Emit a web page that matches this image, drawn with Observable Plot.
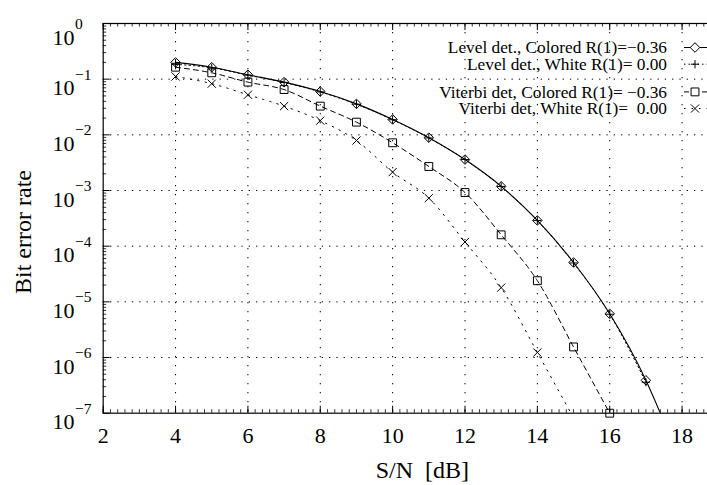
<!DOCTYPE html>
<html><head><meta charset="utf-8">
<script src="https://cdn.jsdelivr.net/npm/d3@7"></script>
<script src="https://cdn.jsdelivr.net/npm/@observablehq/plot@0.6"></script>
<style>
html,body{margin:0;padding:0;background:#fff;overflow:hidden}
#wrap{width:707px;height:485px;overflow:hidden;position:relative;background:#fff}
#wrap svg{max-width:none !important;}
</style></head><body><div id="wrap"></div>
<script>
// ---- data ----
const snrLevel = [4,5,6,7,8,9,10,11,12,13,14,15,16,17];
const levelColored = [0.20,0.164,0.12,0.0885,0.060,0.036,0.0189,0.0089,0.0036,0.00119,0.00029,5.1e-5,6.1e-6,3.9e-7];
const levelWhite   = [0.185,0.16,0.118,0.087,0.059,0.0355,0.0187,0.0088,0.0036,0.00118,0.00029,5.0e-5,6.0e-6,3.6e-7];
const levelColoredTail = {x:17.4, y:1e-7};
const snrViterbiColored = [4,5,6,7,8,9,10,11,12,13,14,15,16];
const viterbiColored = [0.164,0.13,0.0885,0.065,0.0328,0.0169,0.0072,0.0027,9.2e-4,1.6e-4,2.4e-5,1.55e-6,1.0e-7];
const snrViterbiWhite = [4,5,6,7,8,9,10,11,12,13,14];
const viterbiWhite = [0.112,0.083,0.0525,0.0328,0.018,0.0079,0.00214,7.3e-4,1.19e-4,1.8e-5,1.23e-6];
const viterbiWhiteTail = {x:14.93, y:1e-7};

const xTicks = [2,4,6,8,10,12,14,16,18];
const xGrid = [4,6,8,10,12,14,16,18];
const xMinor = d3.range(2, 19.7, 0.2).map(v => +v.toFixed(1));
const yExponents = [0,-1,-2,-3,-4,-5,-6,-7];
const yTicks = yExponents.map(e => Math.pow(10, e));
const yGrid = yTicks.slice(1, -1);
const yMinor = [];
for (let e = -7; e < 0; e++) for (let m = 2; m <= 9; m++) yMinor.push(m * Math.pow(10, e));

const legendLabels = [
  "Level det., Colored R(1)=\u22120.36",
  "Level det., White R(1)= 0.00",
  "Viterbi det, Colored R(1)= \u22120.36",
  "Viterbi det, White R(1)=  0.00"
];
const xLabel = "S/N  [dB]";
const yLabel = "Bit error rate";

// ---- tables ----
const tLC = snrLevel.map((x,i)=>({x, y:levelColored[i]}));
const tLW = snrLevel.map((x,i)=>({x, y:levelWhite[i]}));
const tVC = snrViterbiColored.map((x,i)=>({x, y:viterbiColored[i]}));
const tVW = snrViterbiWhite.map((x,i)=>({x, y:viterbiWhite[i]}));
const lineLC = [...tLC, levelColoredTail];
const lineLW = [...tLW];
const lineVW = [...tVW, viterbiWhiteTail];

const W = 742, H = 485, mL = 102.7, mT = 23, mB = 72.3;
const ph = H - mT - mB, pw = W - mL;
const font = "Liberation Serif, Times New Roman, serif";

const plot = Plot.plot({
  width: W, height: H,
  marginLeft: mL, marginRight: 0, marginTop: mT, marginBottom: mB,
  style: {fontFamily: font, background: "white", color: "black", maxWidth: "none"},
  x: {type: "linear", domain: [2, 19.67]},
  y: {type: "log", domain: [1e-7, 1]},
  marks: [
    Plot.ruleX(xGrid, {x: d=>d, stroke: "black", strokeWidth: 1, strokeDasharray: "1.3,7.7"}),
    Plot.ruleY(yGrid, {y: d=>d, stroke: "black", strokeWidth: 1, strokeDasharray: "1.3,6"}),
    // minor ticks
    Plot.tickX(xMinor, {x: d=>d, insetTop: ph - 3.5, stroke: "black", strokeWidth: 0.8}),
    Plot.tickX(xMinor, {x: d=>d, insetBottom: ph - 3.5, stroke: "black", strokeWidth: 0.8}),
    Plot.tickY(yMinor, {y: d=>d, insetRight: pw - 3.5, stroke: "black", strokeWidth: 0.8}),
    // major ticks
    Plot.tickX(xTicks, {x: d=>d, insetTop: ph - 7, stroke: "black"}),
    Plot.tickX(xTicks, {x: d=>d, insetBottom: ph - 7, stroke: "black"}),
    Plot.tickY(yTicks, {y: d=>d, insetRight: pw - 7, stroke: "black"}),
    Plot.frame({stroke: "black", strokeWidth: 1.2}),
    // curves
    Plot.line(lineLW, {x: "x", y: "y", curve: "monotone-x", stroke: "black", strokeWidth: 1, strokeDasharray: "1.5,3", clip: true}),
    Plot.line(lineLC, {x: "x", y: "y", curve: "monotone-x", stroke: "black", strokeWidth: 1.1, clip: true}),
    Plot.line(tVC, {x: "x", y: "y", curve: "monotone-x", stroke: "black", strokeWidth: 1, strokeDasharray: "5,4", clip: true}),
    Plot.line(lineVW, {x: "x", y: "y", curve: "monotone-x", stroke: "black", strokeWidth: 1, strokeDasharray: "1.5,6", clip: true}),
    // markers
    Plot.dot(tLC, {x: "x", y: "y", symbol: "diamond2", r: 4.3, stroke: "black", fill: "none", strokeWidth: 1}),
    Plot.dot(tLW, {x: "x", y: "y", symbol: "plus", r: 2.8, stroke: "black", fill: "none", strokeWidth: 1}),
    Plot.dot(tVC, {x: "x", y: "y", symbol: "square2", r: 5, stroke: "black", fill: "none", strokeWidth: 1}),
    Plot.dot(tVW, {x: "x", y: "y", symbol: "times", r: 3.8, stroke: "black", fill: "none", strokeWidth: 1}),
    // axes labels
    Plot.axisX(xTicks, {anchor: "bottom", tickSize: 0, tickPadding: 14, fontSize: 22, label: null, tickFormat: d => String(d)}),
    Plot.axisY(yTicks, {anchor: "left", tickSize: 0, tickPadding: mL - 52, textAnchor: "start", fontSize: 22, label: null, tickFormat: () => "10"})
  ]
});

document.getElementById("wrap").appendChild(plot);
plot.style.maxWidth = "none";
const svg = d3.select(plot);

// superscript exponents on y tick labels
svg.selectAll('g[aria-label="y-axis tick label"] text').each(function(d, i) {
  const t = d3.select(this);
  t.attr("dy", i === 0 ? 14 : 9);
  const e = yExponents[i];
  t.append("tspan").attr("font-size", 15.5).attr("dy", -15.5).attr("dx", 0.5)
    .text(e < 0 ? "\u2212" + (-e) : String(e));
});

// axis titles
const sx = plot.scale("x");
const cx = (sx.range[0] + sx.range[1]) / 2;
svg.append("text").attr("x", cx).attr("y", 478).attr("text-anchor", "middle")
  .attr("font-size", 24).attr("font-family", font).style("white-space", "pre").text(xLabel);
svg.append("text").attr("transform", "translate(31,232) rotate(-90)").attr("text-anchor", "middle")
  .attr("font-size", 24).attr("font-family", font).text(yLabel);

// legend
const legY = [53.3, 70, 97.7, 114.3];
const symTypes = [
  {s: d3.symbolDiamond2, size: Math.PI*4.3*4.3, dash: null},
  {s: d3.symbolPlus, size: Math.PI*2.8*2.8, dash: "1.5,3"},
  {s: d3.symbolSquare2, size: Math.PI*5*5, dash: "5,4"},
  {s: d3.symbolTimes, size: Math.PI*3.8*3.8, dash: "1.5,6"}
];
const leg = svg.append("g").attr("font-family", font).attr("font-size", 17.3);
legendLabels.forEach((lab, i) => {
  leg.append("text").attr("x", 667).attr("y", legY[i]).attr("text-anchor", "end")
    .style("white-space", "pre").text(lab);
  const cyy = legY[i] - 5.8;
  leg.append("line").attr("x1", 684).attr("x2", 707).attr("y1", cyy).attr("y2", cyy)
    .attr("stroke", "black").attr("stroke-width", 1).attr("stroke-dasharray", symTypes[i].dash);
  leg.append("path").attr("d", d3.symbol(symTypes[i].s, symTypes[i].size)())
    .attr("transform", `translate(695,${cyy})`).attr("fill", i === 2 || i === 0 ? "white" : "none").attr("stroke", "black");
});
</script></body></html>
